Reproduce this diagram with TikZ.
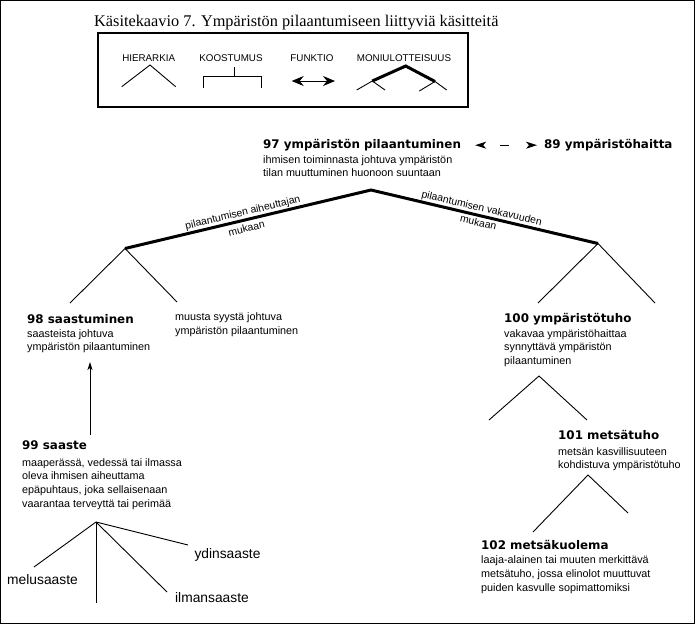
\documentclass[tikz,border=0pt]{standalone}
\usepackage{fontspec}
\setmainfont{Liberation Serif}
\newfontfamily\arialf{Liberation Sans}
\newfontfamily\verdf{DejaVu Sans}
\usetikzlibrary{arrows.meta}
\begin{document}
\begin{tikzpicture}[x=1pt,y=-1pt,
  thinl/.style={line width=0.9pt},
  thickl/.style={line width=3pt},
  head/.style={font=\verdf\bfseries\fontsize{11.9}{14}\selectfont, inner sep=0, anchor=base west},
  desc/.style={font=\arialf\fontsize{10.8}{13.6}\selectfont, inner sep=0, anchor=north west, align=left},
  leaf/.style={font=\arialf\fontsize{13.8}{16}\selectfont, inner sep=0},
  leg/.style={font=\arialf\fontsize{9.8}{12}\selectfont, inner sep=0},
  slab/.style={font=\arialf\fontsize{10.4}{12}\selectfont, sloped},
  bighead/.tip={Stealth[length=12pt,width=10pt,inset=4pt]},
  smallhead/.tip={Stealth[length=11pt,width=7pt,inset=3pt]}
]
\useasboundingbox (0,0) rectangle (696,625);
% outer frame
\draw[line width=1pt] (0.5,0.5) rectangle (694.5,623.5);

% title
\node[font=\fontsize{16.3}{20}\selectfont, anchor=base west, inner sep=0] (title) at (94,26.7)
  {Käsitekaavio 7. Ympäristön pilaantumiseen liittyviä käsitteitä};

% legend
\draw[line width=2pt] (97.5,33) rectangle (468,107);
\node[leg] (lh) at (148.7,58.3) {HIERARKIA};
\node[leg] (lk) at (231,58.3) {KOOSTUMUS};
\node[leg] (lf) at (312,58.3) {FUNKTIO};
\node[leg] (lm) at (404,58.3) {MONIULOTTEISUUS};
\draw[thinl] (121.7,86.7) -- (150,65) -- (175.7,86.7);
\draw[thinl] (234.3,67.3) -- (234.3,76.7);
\draw[thinl] (203.3,87.7) -- (203.3,76.7) -- (261.7,76.7) -- (261.7,87.7);
\draw[thinl, bighead-bighead] (291.7,81) -- (335,81);
\draw[thickl] (372.3,81) -- (405.7,66) -- (435,81.5);
\draw[thinl] (356.7,90) -- (372.3,81) -- (385,90);
\draw[thinl] (419.3,91) -- (435,81.5) -- (446.7,90);

% concept 97 and 89
\node[head] (h97) at (263,148.5) {97 ympäristön pilaantuminen};
\node[desc] (d97) at (263,155.3) {ihmisen toiminnasta johtuva ympäristön\\tilan muuttuminen huonoon suuntaan};
\node[head] (h89) at (544,148.5) {89 ympäristöhaitta};
\draw[thinl, smallhead-smallhead, dash pattern=on 0pt off 17pt on 9pt off 100pt]
  ([xshift=14pt]h97.east) -- ([xshift=-7pt]h89.west);

% main split
\coordinate (top) at (371,190);
\coordinate (L) at (125,248.5);
\coordinate (R) at (598,243.5);
\draw[thickl] (L)
  -- node[slab, above, inner sep=0.8pt, pos=0.486] (lab1) {pilaantumisen aiheuttajan}
     node[slab, below, inner sep=3pt, pos=0.486] (lab2) {mukaan}
  (top)
  -- node[slab, above, inner sep=0.8pt, pos=0.48] (lab3) {pilaantumisen vakavuuden}
     node[slab, below, inner sep=1.5pt, pos=0.48] (lab4) {mukaan}
  (R);

% left branch
\coordinate (L1) at (70,303);
\coordinate (L2) at (177,302);
\draw[thinl] (L1) -- (L) -- (L2);
\node[head] (h98) at (27,323.3) {98 saastuminen};
\node[desc] (d98) at (27,329.3) {saasteista johtuva\\ympäristön pilaantuminen};
\node[desc] (dmuu) at (175,312.8) {muusta syystä johtuva\\ympäristön pilaantuminen};

% saaste
\coordinate (a99) at (90,435);
\coordinate (a98) at (90,362);
\draw[thinl, -{Stealth[length=8pt,width=5pt,inset=2pt]}] (a99) -- (a98);
\node[head] (h99) at (22,449.5) {99 saaste};
\node[desc] (d99) at (22,458.3) {maaperässä, vedessä tai ilmassa\\oleva ihmisen aiheuttama\\epäpuhtaus, joka sellaisenaan\\vaarantaa terveyttä tai perimää};
\coordinate (F) at (96,522);
\coordinate (Fm) at (34,567);
\coordinate (Fv) at (96,603);
\coordinate (Fi) at (167,592);
\coordinate (Fy) at (188,545);
\draw[thinl] (F) -- (Fm);
\draw[thinl] (F) -- (Fv);
\draw[thinl] (F) -- (Fi);
\draw[thinl] (F) -- (Fy);
\node[leaf] (melu) at (42.5,580) {melusaaste};
\node[leaf] (ydin) at (227.5,555) {ydinsaaste};
\node[leaf] (ilma) at (212,598) {ilmansaaste};

% right branch
\coordinate (R1) at (538,303);
\coordinate (R2) at (655,303);
\draw[thinl] (R1) -- (R) -- (R2);
\node[head] (h100) at (504,322.7) {100 ympäristötuho};
\node[desc] (d100) at (504,329.3) {vakavaa ympäristöhaittaa\\synnyttävä ympäristön\\pilaantuminen};
\coordinate (S1) at (539,376);
\coordinate (S1a) at (489,420);
\coordinate (S1b) at (587,420);
\draw[thinl] (S1a) -- (S1) -- (S1b);
\node[head] (h101) at (558,439.4) {101 metsätuho};
\node[desc] (d101) at (558,447.3) {metsän kasvillisuuteen\\kohdistuva ympäristötuho};
\coordinate (S2) at (588,475);
\coordinate (S2a) at (533,532);
\coordinate (S2b) at (628,513);
\draw[thinl] (S2a) -- (S2) -- (S2b);
\node[head] (h102) at (481,549.4) {102 metsäkuolema};
\node[desc] (d102) at (481,555.8) {laaja-alainen tai muuten merkittävä\\metsätuho, jossa elinolot muuttuvat\\puiden kasvulle sopimattomiksi};
\end{tikzpicture}
\end{document}
